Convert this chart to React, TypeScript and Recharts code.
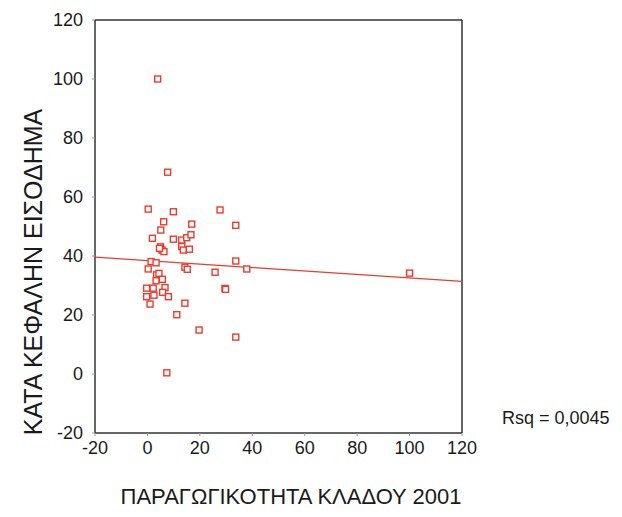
import { ScatterChart, Scatter, XAxis, YAxis, ReferenceLine } from "recharts";

// productivity (x) vs per-capita income (y)
const productivity = [
  0.3, 9.9, 27.7, 6.2, 16.9, 5.1, 33.7, 1.9, 9.9, 13.1, 15, 16.6,
  5, 5.6, 6.3, 4.6, 13.1, 13.7, 16, 1.4, 3.3, 0.3, 14.3, 15.2, 25.8,
  33.7, 37.9, 3.5, 4.4, 3.3, 5.7, -0.3, 2.2, 6.7, -0.3, 2.5, 5.8, 8,
  1, 29.6, 29.8, 14.3, 11.2, 19.7, 33.7, 7.4, 3.9, 7.7, 100,
];
const income = [
  55.9, 55, 55.6, 51.6, 50.8, 48.8, 50.4, 46, 45.7, 45.4, 46.2, 47.2,
  43.1, 42, 41.5, 42.6, 43.2, 42, 42.3, 38.1, 37.7, 35.6, 36.2, 35.5, 34.5,
  38.3, 35.6, 33.6, 34.1, 31.6, 32.1, 29.1, 29.1, 29.3, 26.2, 26.7, 27.7, 26.2,
  23.7, 29, 28.7, 24, 20.1, 14.9, 12.5, 0.4, 100, 68.4, 34.2,
];
const fitX = [-20, 120];
const fitY = [39.6, 31.4];
const ticks = [-20, 0, 20, 40, 60, 80, 100, 120];

const points = productivity.map((x, i) => ({ x, y: income[i] }));
const fitLine = fitX.map((x, i) => ({ x, y: fitY[i] }));

const RED = "#ee3a2c";
const FONT = "'Liberation Sans', Arial, sans-serif";

const Square = (props: any) => {
  const { cx, cy } = props;
  if (cx == null || cy == null) return null;
  return (
    <rect x={cx - 3} y={cy - 3} width={6} height={6} fill="#fff" stroke={RED} strokeWidth={1.4} />
  );
};

const tickStyle = { fontSize: 18, fill: "#1a1a1a", fontFamily: FONT };

export default function App() {
  return (
    <div style={{ position: "relative", width: 622, height: 517, background: "#fff", fontFamily: FONT }}>
      <style>{"body{margin:0}"}</style>
      <ScatterChart width={622} height={517} margin={{ top: 20, right: 160, bottom: 54, left: 35 }}>
        <XAxis
          type="number"
          dataKey="x"
          domain={[-20, 120]}
          ticks={ticks}
          height={30}
          tick={tickStyle}
          tickSize={3}
          tickMargin={5}
          tickLine={{ stroke: "#999" }}
          axisLine={{ stroke: "#333", strokeWidth: 1.5 }}
          allowDataOverflow
        />
        <YAxis
          type="number"
          dataKey="y"
          domain={[-20, 120]}
          ticks={ticks}
          width={60}
          tick={tickStyle}
          tickSize={3}
          tickMargin={9}
          tickLine={{ stroke: "#999" }}
          axisLine={{ stroke: "#333", strokeWidth: 1.5 }}
          allowDataOverflow
        />
        <ReferenceLine y={120} stroke="#333" strokeWidth={1.5} />
        <ReferenceLine x={120} stroke="#333" strokeWidth={1.5} />
        <Scatter data={fitLine} line={{ stroke: RED, strokeWidth: 1.3 }} shape={() => null} isAnimationActive={false} />
        <Scatter data={points} shape={<Square />} isAnimationActive={false} />
      </ScatterChart>
      <div
        style={{
          position: "absolute",
          left: 33,
          top: 272,
          transform: "translate(-50%, -50%) rotate(-90deg)",
          whiteSpace: "nowrap",
          fontSize: 25,
          color: "#1a1a1a",
        }}
      >
        ΚΑΤΑ ΚΕΦΑΛΗΝ ΕΙΣΟΔΗΜΑ
      </div>
      <div
        style={{ position: "absolute", left: 291, top: 497, transform: "translate(-50%, -50%)", fontSize: 22, color: "#1a1a1a", whiteSpace: "nowrap" }}
      >
        ΠΑΡΑΓΩΓΙΚΟΤΗΤΑ ΚΛΑΔΟΥ 2001
      </div>
      <div style={{ position: "absolute", left: 502, top: 418, transform: "translateY(-50%)", fontSize: 18, color: "#1a1a1a", whiteSpace: "nowrap" }}>
        Rsq = 0,0045
      </div>
    </div>
  );
}
